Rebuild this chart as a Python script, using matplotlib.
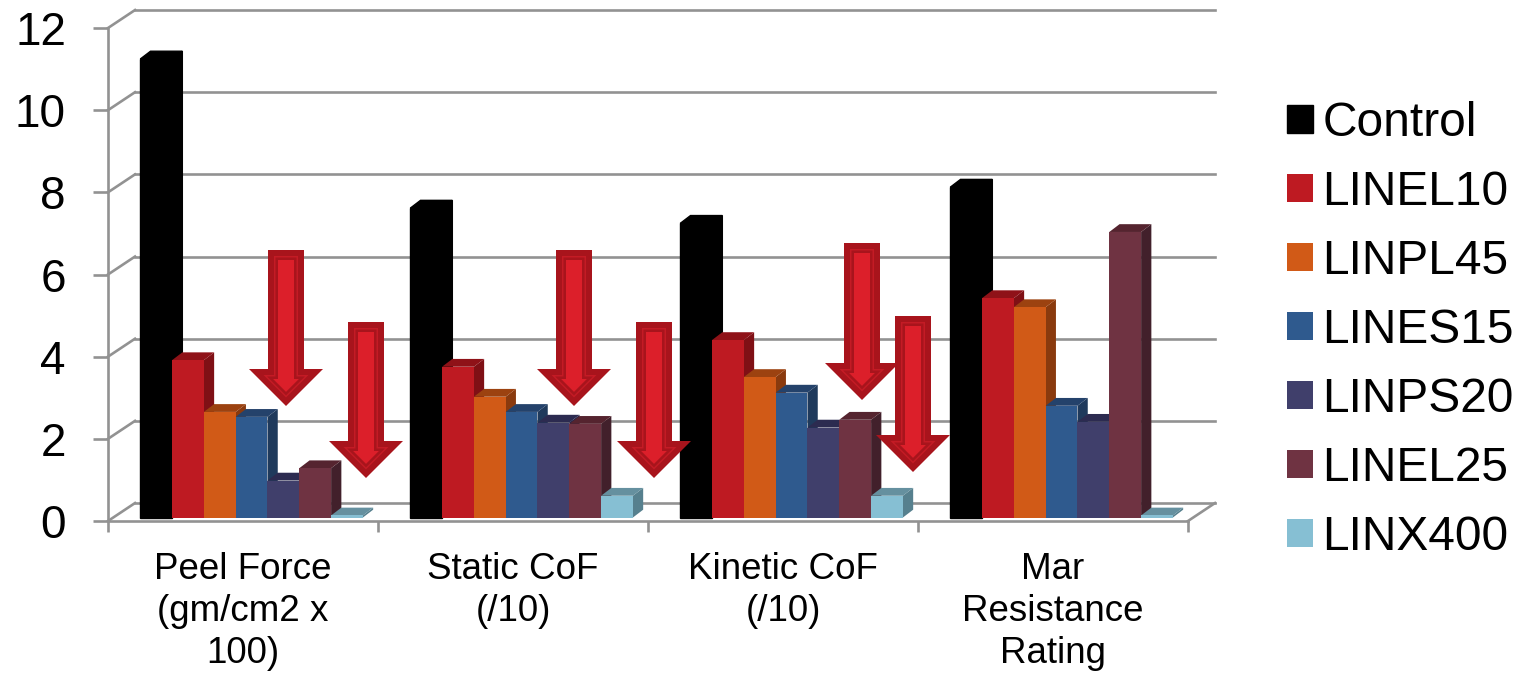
import matplotlib
matplotlib.use('Agg')
import matplotlib.pyplot as plt
from matplotlib.patches import Patch, Polygon
from matplotlib.transforms import Affine2D

plt.rcParams['font.family'] = ['Liberation Sans', 'DejaVu Sans']

W, H = 1522, 675

categories = ['Peel Force\n(gm/cm2 x\n100)', 'Static CoF\n(/10)', 'Kinetic CoF\n(/10)',
              'Mar\nResistance\nRating']
series_names = ['Control', 'LINEL10', 'LINPL45', 'LINES15', 'LINPS20', 'LINEL25', 'LINX400']

control = [11.16, 7.53, 7.16, 8.04]
linel10 = [3.83, 3.67, 4.32, 5.34]
linpl45 = [2.57, 2.94, 3.42, 5.12]
lines15 = [2.45, 2.57, 3.04, 2.72]
linps20 = [0.90, 2.31, 2.19, 2.33]
linel25 = [1.20, 2.28, 2.38, 6.95]
linx400 = [0.05, 0.53, 0.53, 0.05]
all_values = [control, linel10, linpl45, lines15, linps20, linel25, linx400]

# front, top, side shades
front = ['#000000', '#BE1A22', '#D15A17', '#2F5A8E', '#403F6B', '#6F3342', '#86BFD3']
top = ['#000000', '#8F1218', '#9C4210', '#24426B', '#2C2B50', '#55242F', '#65909F']
side = ['#000000', '#7F1015', '#8A3A0E', '#1F3A5C', '#26254A', '#42202B', '#56808E']

# arrows: centre x, top y, tip y (pixels from top left)
arrow_x = [286, 366, 574, 654, 862, 913]
arrow_top = [250, 322, 250, 322, 243, 316]
arrow_tip = [406, 478, 406, 478, 400, 472]

fig = plt.figure(figsize=(W / 100, H / 100), dpi=100)
ax = fig.add_axes([108 / W, 1 - 521 / H, 1080 / W, 493 / H])
ax.set_xlim(0, 4)
ax.set_ylim(0, 12)

grid = '#929292'
lw = 1.9
wall_dx = 0.1
wall_dy = 0.437

# back wall and side wall
for v in range(0, 14, 2):
    ax.plot([wall_dx, 4 + wall_dx], [v + wall_dy, v + wall_dy], color=grid, lw=lw,
            clip_on=False, zorder=1)
    ax.plot([0, wall_dx], [v, v + wall_dy], color=grid, lw=lw, clip_on=False, zorder=1)
ax.plot([4, 4 + wall_dx], [0, wall_dy], color=grid, lw=lw, clip_on=False, zorder=1)

# bars with fake 3d faces
bar_w = 0.1178
start = 0.1195
base = 0.085
dx = 0.038
dy = 0.19
for i, vals in enumerate(all_values):
    edge = 1.0 if i == 0 else 0
    for g, v in enumerate(vals):
        x0 = g + start + i * bar_w
        x1 = x0 + bar_w
        y1 = v + base
        z = 3 + i
        ax.fill([x1, x1 + dx, x1 + dx, x1], [base, base + dy, y1 + dy, y1], facecolor=side[i],
                edgecolor=side[i], lw=edge, zorder=z, clip_on=False)
        ax.fill([x0, x0 + dx, x1 + dx, x1], [y1, y1 + dy, y1 + dy, y1], facecolor=top[i],
                edgecolor=top[i], lw=edge, zorder=z, clip_on=False)
        ax.bar(x0, v, bar_w, bottom=base, align='edge', color=front[i], edgecolor=front[i],
               lw=edge, zorder=z, clip_on=False)

for s in ['top', 'right']:
    ax.spines[s].set_visible(False)
for s in ['left', 'bottom']:
    ax.spines[s].set_color(grid)
    ax.spines[s].set_linewidth(lw)

ax.set_yticks(range(0, 14, 2))
ax.tick_params(axis='y', length=10.8, width=lw, color=grid, labelsize=33, pad=19.5,
               labelcolor='black')
ax.set_xticks(range(5))
ax.set_xticklabels([])
ax.tick_params(axis='x', which='major', length=8, width=lw, color=grid)
ax.set_xticks([0.5, 1.5, 2.5, 3.5], minor=True)
ax.set_xticklabels(categories, minor=True, fontsize=26.5, linespacing=1.27)
ax.tick_params(axis='x', which='minor', length=0, pad=22)

# red arrows, in pixels
px = Affine2D().scale(1 / W, -1 / H).translate(0, 1) + fig.transFigure


def arrow_poly(cx, ytop, ytip, inset, color):
    sw = 18 - inset
    yb = ytip - 37 + inset
    tip = ytip - inset * 1.414
    hw = tip - yb
    pts = [(cx - sw, ytop + inset), (cx + sw, ytop + inset), (cx + sw, yb), (cx + hw, yb),
           (cx, tip), (cx - hw, yb), (cx - sw, yb)]
    fig.add_artist(Polygon(pts, closed=True, transform=px, facecolor=color, lw=0, zorder=20))


for cx, ya, yb in zip(arrow_x, arrow_top, arrow_tip):
    arrow_poly(cx, ya, yb, 0, '#A8141C')
    arrow_poly(cx, ya, yb, 6, '#C41B25')
    arrow_poly(cx, ya, yb, 7.5, '#A8141C')
    arrow_poly(cx, ya, yb, 10, '#DC1F2A')

handles = [Patch(facecolor=c, edgecolor=c, lw=1 if c == '#000000' else 0) for c in front]
fig.legend(handles, series_names, loc='center left', bbox_to_anchor=(1287 / W, 1 - 330.5 / H),
           frameon=False, fontsize=34.5, handlelength=0.54, handleheight=0.54,
           handletextpad=0.2, labelspacing=0.5, borderpad=0, borderaxespad=0)

fig.savefig('out.png', dpi=100)
